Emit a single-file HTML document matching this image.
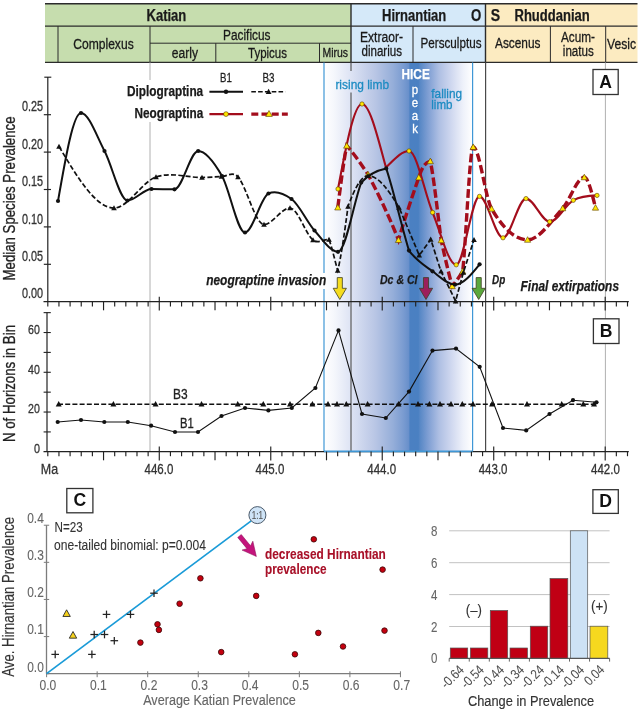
<!DOCTYPE html>
<html><head><meta charset="utf-8"><title>Figure</title>
<style>html,body{margin:0;padding:0;background:#fff}svg{display:block;will-change:transform}</style></head>
<body>
<svg width="644" height="711" viewBox="0 0 644 711" font-family='"Liberation Sans", "DejaVu Sans", sans-serif'>
<defs>
<linearGradient id="hice" x1="0" x2="1" y1="0" y2="0">
<stop offset="0.0000" stop-color="#ffffff" stop-opacity="1"/>
<stop offset="0.0673" stop-color="#f5f7fc" stop-opacity="1"/>
<stop offset="0.1818" stop-color="#dde3f4" stop-opacity="1"/>
<stop offset="0.3434" stop-color="#b9c6e5" stop-opacity="1"/>
<stop offset="0.4646" stop-color="#95aed9" stop-opacity="1"/>
<stop offset="0.5320" stop-color="#7b9cd1" stop-opacity="1"/>
<stop offset="0.5697" stop-color="#6990cb" stop-opacity="1"/>
<stop offset="0.5791" stop-color="#4b80c2" stop-opacity="1"/>
<stop offset="0.6350" stop-color="#4a80c2" stop-opacity="1"/>
<stop offset="0.6465" stop-color="#5888c6" stop-opacity="1"/>
<stop offset="0.7003" stop-color="#7e9ed3" stop-opacity="1"/>
<stop offset="0.7744" stop-color="#aebfe3" stop-opacity="1"/>
<stop offset="0.8485" stop-color="#ccd5ee" stop-opacity="1"/>
<stop offset="0.9360" stop-color="#eef1fa" stop-opacity="1"/>
<stop offset="1.0000" stop-color="#ffffff" stop-opacity="1"/>
</linearGradient>
</defs>
<rect width="644" height="711" fill="#fff"/>
<rect x="324" y="62.5" width="148.5" height="389" fill="url(#hice)"/>
<rect x="45" y="3.7" width="306" height="58.699999999999996" fill="#c6ddae"/>
<rect x="351" y="3.7" width="134.5" height="58.699999999999996" fill="#d5e9f9"/>
<rect x="485.5" y="3.7" width="152.0" height="58.699999999999996" fill="#fcebc1"/>
<line x1="45" y1="3.7" x2="637.5" y2="3.7" stroke="#2b2b2b" stroke-width="1.4" />
<line x1="45" y1="26.1" x2="637.5" y2="26.1" stroke="#2b2b2b" stroke-width="1.4" />
<line x1="45" y1="62.4" x2="637.5" y2="62.4" stroke="#2b2b2b" stroke-width="1.4" />
<line x1="150" y1="43.2" x2="351" y2="43.2" stroke="#2b2b2b" stroke-width="1.0" />
<line x1="58" y1="26.1" x2="58" y2="62.4" stroke="#2b2b2b" stroke-width="1.0" />
<line x1="150" y1="26.1" x2="150" y2="62.4" stroke="#2b2b2b" stroke-width="1.0" />
<line x1="413" y1="26.1" x2="413" y2="62.4" stroke="#2b2b2b" stroke-width="1.0" />
<line x1="550.4" y1="26.1" x2="550.4" y2="62.4" stroke="#2b2b2b" stroke-width="1.0" />
<line x1="605.7" y1="26.1" x2="605.7" y2="62.4" stroke="#2b2b2b" stroke-width="1.0" />
<line x1="215.8" y1="43.2" x2="215.8" y2="62.4" stroke="#2b2b2b" stroke-width="1.0" />
<line x1="319.5" y1="43.2" x2="319.5" y2="62.4" stroke="#2b2b2b" stroke-width="1.0" />
<line x1="351" y1="3.7" x2="351" y2="62.4" stroke="#2b2b2b" stroke-width="1.4" />
<line x1="485.5" y1="3.7" x2="485.5" y2="62.4" stroke="#2b2b2b" stroke-width="1.4" />
<text x="146.50" y="20.60" font-size="15.8" textLength="39.80" lengthAdjust="spacingAndGlyphs" font-weight="bold" fill="#1a1a1a" stroke="#1a1a1a" stroke-width="0.25" >Katian</text>
<text x="382.00" y="20.60" font-size="15.8" textLength="64.30" lengthAdjust="spacingAndGlyphs" font-weight="bold" fill="#1a1a1a" stroke="#1a1a1a" stroke-width="0.25" >Hirnantian</text>
<text x="470.90" y="21.00" font-size="17.2" textLength="10.30" lengthAdjust="spacingAndGlyphs" font-weight="bold" fill="#1a1a1a" stroke="#1a1a1a" stroke-width="0.25" >O</text>
<text x="490.80" y="21.00" font-size="17.2" textLength="9.40" lengthAdjust="spacingAndGlyphs" font-weight="bold" fill="#1a1a1a" stroke="#1a1a1a" stroke-width="0.25" >S</text>
<text x="514.50" y="20.60" font-size="15.8" textLength="75.20" lengthAdjust="spacingAndGlyphs" font-weight="bold" fill="#1a1a1a" stroke="#1a1a1a" stroke-width="0.25" >Rhuddanian</text>
<text x="73.20" y="48.80" font-size="15.2" textLength="60.50" lengthAdjust="spacingAndGlyphs" fill="#1a1a1a" stroke="#1a1a1a" stroke-width="0.3" >Complexus</text>
<text x="223.00" y="40.20" font-size="15.2" textLength="47.50" lengthAdjust="spacingAndGlyphs" fill="#1a1a1a" stroke="#1a1a1a" stroke-width="0.3" >Pacificus</text>
<text x="171.80" y="57.70" font-size="15.2" textLength="26.20" lengthAdjust="spacingAndGlyphs" fill="#1a1a1a" stroke="#1a1a1a" stroke-width="0.3" >early</text>
<text x="248.00" y="57.70" font-size="15.2" textLength="39.00" lengthAdjust="spacingAndGlyphs" fill="#1a1a1a" stroke="#1a1a1a" stroke-width="0.3" >Typicus</text>
<text x="322.50" y="57.20" font-size="13.5" textLength="25.50" lengthAdjust="spacingAndGlyphs" fill="#1a1a1a" stroke="#1a1a1a" stroke-width="0.3" >Mirus</text>
<text x="360.00" y="42.20" font-size="15.2" textLength="43.00" lengthAdjust="spacingAndGlyphs" fill="#1a1a1a" stroke="#1a1a1a" stroke-width="0.3" >Extraor-</text>
<text x="361.50" y="55.80" font-size="15.2" textLength="40.50" lengthAdjust="spacingAndGlyphs" fill="#1a1a1a" stroke="#1a1a1a" stroke-width="0.3" >dinarius</text>
<text x="420.50" y="48.40" font-size="15.2" textLength="61.00" lengthAdjust="spacingAndGlyphs" fill="#1a1a1a" stroke="#1a1a1a" stroke-width="0.3" >Persculptus</text>
<text x="495.00" y="48.40" font-size="15.2" textLength="45.50" lengthAdjust="spacingAndGlyphs" fill="#1a1a1a" stroke="#1a1a1a" stroke-width="0.3" >Ascenus</text>
<text x="561.00" y="42.20" font-size="15.2" textLength="34.00" lengthAdjust="spacingAndGlyphs" fill="#1a1a1a" stroke="#1a1a1a" stroke-width="0.3" >Acum-</text>
<text x="562.80" y="56.00" font-size="15.2" textLength="31.00" lengthAdjust="spacingAndGlyphs" fill="#1a1a1a" stroke="#1a1a1a" stroke-width="0.3" >inatus</text>
<text x="607.00" y="48.60" font-size="15.2" textLength="29.00" lengthAdjust="spacingAndGlyphs" fill="#1a1a1a" stroke="#1a1a1a" stroke-width="0.3" >Vesic</text>
<line x1="150" y1="62.4" x2="150" y2="80" stroke="#b0b0b0" stroke-width="1.0" />
<line x1="150" y1="122" x2="150" y2="451" stroke="#b0b0b0" stroke-width="1.0" />
<line x1="605.4" y1="62.4" x2="605.4" y2="451" stroke="#b0b0b0" stroke-width="1.0" />
<line x1="351" y1="62.4" x2="351" y2="71" stroke="#5a5a5a" stroke-width="1.2" />
<line x1="351" y1="92.5" x2="351" y2="451" stroke="#5a5a5a" stroke-width="1.2" />
<line x1="485.6" y1="62.4" x2="485.6" y2="451" stroke="#4a4a4a" stroke-width="1.2" />
<line x1="324" y1="62.4" x2="324" y2="273" stroke="#3f97d6" stroke-width="1.2" />
<line x1="324" y1="289" x2="324" y2="451" stroke="#3f97d6" stroke-width="1.2" />
<line x1="472.6" y1="62.4" x2="472.6" y2="451" stroke="#3f97d6" stroke-width="1.2" />
<line x1="324" y1="451.2" x2="472.6" y2="451.2" stroke="#3f97d6" stroke-width="1.2" />
<line x1="47.8" y1="77" x2="47.8" y2="301.7" stroke="#222" stroke-width="1.2" />
<line x1="44.3" y1="77.2" x2="51.3" y2="77.2" stroke="#222" stroke-width="1.15" />
<line x1="43.8" y1="264.3" x2="51" y2="264.3" stroke="#222" stroke-width="1.15" />
<line x1="43.8" y1="226.89999999999998" x2="51" y2="226.89999999999998" stroke="#222" stroke-width="1.15" />
<line x1="43.8" y1="189.5" x2="51" y2="189.5" stroke="#222" stroke-width="1.15" />
<line x1="43.8" y1="152.1" x2="51" y2="152.1" stroke="#222" stroke-width="1.15" />
<line x1="43.8" y1="114.69999999999999" x2="51" y2="114.69999999999999" stroke="#222" stroke-width="1.15" />
<line x1="43.5" y1="301.7" x2="628.8" y2="301.7" stroke="#222" stroke-width="1.25" />
<line x1="47.8" y1="301.7" x2="47.8" y2="306.5" stroke="#222" stroke-width="1.15" />
<line x1="58.94799999999999" y1="301.7" x2="58.94799999999999" y2="306.5" stroke="#222" stroke-width="1.15" />
<line x1="70.096" y1="301.7" x2="70.096" y2="306.5" stroke="#222" stroke-width="1.15" />
<line x1="81.244" y1="301.7" x2="81.244" y2="306.5" stroke="#222" stroke-width="1.15" />
<line x1="92.392" y1="301.7" x2="92.392" y2="306.5" stroke="#222" stroke-width="1.15" />
<line x1="103.53999999999999" y1="301.7" x2="103.53999999999999" y2="310.3" stroke="#222" stroke-width="1.15" />
<line x1="114.688" y1="301.7" x2="114.688" y2="306.5" stroke="#222" stroke-width="1.15" />
<line x1="125.836" y1="301.7" x2="125.836" y2="306.5" stroke="#222" stroke-width="1.15" />
<line x1="136.98399999999998" y1="301.7" x2="136.98399999999998" y2="306.5" stroke="#222" stroke-width="1.15" />
<line x1="148.132" y1="301.7" x2="148.132" y2="306.5" stroke="#222" stroke-width="1.15" />
<line x1="159.27999999999997" y1="296.8" x2="159.27999999999997" y2="310.4" stroke="#222" stroke-width="1.15" />
<line x1="170.428" y1="301.7" x2="170.428" y2="306.5" stroke="#222" stroke-width="1.15" />
<line x1="181.57600000000002" y1="301.7" x2="181.57600000000002" y2="306.5" stroke="#222" stroke-width="1.15" />
<line x1="192.724" y1="301.7" x2="192.724" y2="306.5" stroke="#222" stroke-width="1.15" />
<line x1="203.872" y1="301.7" x2="203.872" y2="306.5" stroke="#222" stroke-width="1.15" />
<line x1="215.01999999999998" y1="301.7" x2="215.01999999999998" y2="310.3" stroke="#222" stroke-width="1.15" />
<line x1="226.168" y1="301.7" x2="226.168" y2="306.5" stroke="#222" stroke-width="1.15" />
<line x1="237.31599999999997" y1="301.7" x2="237.31599999999997" y2="306.5" stroke="#222" stroke-width="1.15" />
<line x1="248.464" y1="301.7" x2="248.464" y2="306.5" stroke="#222" stroke-width="1.15" />
<line x1="259.61199999999997" y1="301.7" x2="259.61199999999997" y2="306.5" stroke="#222" stroke-width="1.15" />
<line x1="270.76" y1="296.8" x2="270.76" y2="310.4" stroke="#222" stroke-width="1.15" />
<line x1="281.908" y1="301.7" x2="281.908" y2="306.5" stroke="#222" stroke-width="1.15" />
<line x1="293.056" y1="301.7" x2="293.056" y2="306.5" stroke="#222" stroke-width="1.15" />
<line x1="304.204" y1="301.7" x2="304.204" y2="306.5" stroke="#222" stroke-width="1.15" />
<line x1="315.35200000000003" y1="301.7" x2="315.35200000000003" y2="306.5" stroke="#222" stroke-width="1.15" />
<line x1="326.5" y1="301.7" x2="326.5" y2="310.3" stroke="#222" stroke-width="1.15" />
<line x1="337.648" y1="301.7" x2="337.648" y2="306.5" stroke="#222" stroke-width="1.15" />
<line x1="348.796" y1="301.7" x2="348.796" y2="306.5" stroke="#222" stroke-width="1.15" />
<line x1="359.944" y1="301.7" x2="359.944" y2="306.5" stroke="#222" stroke-width="1.15" />
<line x1="371.092" y1="301.7" x2="371.092" y2="306.5" stroke="#222" stroke-width="1.15" />
<line x1="382.24" y1="296.8" x2="382.24" y2="310.4" stroke="#222" stroke-width="1.15" />
<line x1="393.388" y1="301.7" x2="393.388" y2="306.5" stroke="#222" stroke-width="1.15" />
<line x1="404.536" y1="301.7" x2="404.536" y2="306.5" stroke="#222" stroke-width="1.15" />
<line x1="415.684" y1="301.7" x2="415.684" y2="306.5" stroke="#222" stroke-width="1.15" />
<line x1="426.832" y1="301.7" x2="426.832" y2="306.5" stroke="#222" stroke-width="1.15" />
<line x1="437.98" y1="301.7" x2="437.98" y2="310.3" stroke="#222" stroke-width="1.15" />
<line x1="449.128" y1="301.7" x2="449.128" y2="306.5" stroke="#222" stroke-width="1.15" />
<line x1="460.276" y1="301.7" x2="460.276" y2="306.5" stroke="#222" stroke-width="1.15" />
<line x1="471.424" y1="301.7" x2="471.424" y2="306.5" stroke="#222" stroke-width="1.15" />
<line x1="482.572" y1="301.7" x2="482.572" y2="306.5" stroke="#222" stroke-width="1.15" />
<line x1="493.71999999999997" y1="296.8" x2="493.71999999999997" y2="310.4" stroke="#222" stroke-width="1.15" />
<line x1="504.868" y1="301.7" x2="504.868" y2="306.5" stroke="#222" stroke-width="1.15" />
<line x1="516.016" y1="301.7" x2="516.016" y2="306.5" stroke="#222" stroke-width="1.15" />
<line x1="527.164" y1="301.7" x2="527.164" y2="306.5" stroke="#222" stroke-width="1.15" />
<line x1="538.312" y1="301.7" x2="538.312" y2="306.5" stroke="#222" stroke-width="1.15" />
<line x1="549.4599999999999" y1="301.7" x2="549.4599999999999" y2="310.3" stroke="#222" stroke-width="1.15" />
<line x1="560.608" y1="301.7" x2="560.608" y2="306.5" stroke="#222" stroke-width="1.15" />
<line x1="571.756" y1="301.7" x2="571.756" y2="306.5" stroke="#222" stroke-width="1.15" />
<line x1="582.904" y1="301.7" x2="582.904" y2="306.5" stroke="#222" stroke-width="1.15" />
<line x1="594.0519999999999" y1="301.7" x2="594.0519999999999" y2="306.5" stroke="#222" stroke-width="1.15" />
<line x1="605.1999999999999" y1="296.8" x2="605.1999999999999" y2="310.4" stroke="#222" stroke-width="1.15" />
<line x1="616.348" y1="301.7" x2="616.348" y2="306.5" stroke="#222" stroke-width="1.15" />
<line x1="627.496" y1="301.7" x2="627.496" y2="306.5" stroke="#222" stroke-width="1.15" />
<text x="21.90" y="298.40" font-size="14.2" textLength="21.10" lengthAdjust="spacingAndGlyphs" fill="#333" stroke="#333" stroke-width="0.3" >0.00</text>
<text x="21.90" y="261.00" font-size="14.2" textLength="21.10" lengthAdjust="spacingAndGlyphs" fill="#333" stroke="#333" stroke-width="0.3" >0.05</text>
<text x="21.90" y="223.60" font-size="14.2" textLength="21.10" lengthAdjust="spacingAndGlyphs" fill="#333" stroke="#333" stroke-width="0.3" >0.10</text>
<text x="21.90" y="186.20" font-size="14.2" textLength="21.10" lengthAdjust="spacingAndGlyphs" fill="#333" stroke="#333" stroke-width="0.3" >0.15</text>
<text x="21.90" y="148.80" font-size="14.2" textLength="21.10" lengthAdjust="spacingAndGlyphs" fill="#333" stroke="#333" stroke-width="0.3" >0.20</text>
<text x="21.90" y="111.40" font-size="14.2" textLength="21.10" lengthAdjust="spacingAndGlyphs" fill="#333" stroke="#333" stroke-width="0.3" >0.25</text>
<text x="14.60" y="198.50" font-size="16.3" textLength="164.00" lengthAdjust="spacingAndGlyphs" text-anchor="middle" transform="rotate(-90 14.60 198.50)" fill="#222" stroke="#222" stroke-width="0.3" >Median Species Prevalence</text>
<text x="220.00" y="82.20" font-size="13.2" textLength="11.80" lengthAdjust="spacingAndGlyphs" fill="#222" stroke="#222" stroke-width="0.3" >B1</text>
<text x="262.50" y="82.20" font-size="13.2" textLength="12.00" lengthAdjust="spacingAndGlyphs" fill="#222" stroke="#222" stroke-width="0.3" >B3</text>
<text x="203.20" y="96.00" font-size="14.2" text-anchor="end" font-weight="bold" fill="#1a1a1a" stroke="#1a1a1a" stroke-width="0.25" textLength="76.2" lengthAdjust="spacingAndGlyphs">Diplograptina</text>
<text x="203.20" y="118.00" font-size="14.2" text-anchor="end" font-weight="bold" fill="#1a1a1a" stroke="#1a1a1a" stroke-width="0.25" textLength="68.7" lengthAdjust="spacingAndGlyphs">Neograptina</text>
<line x1="209.4" y1="91.8" x2="243" y2="91.8" stroke="#111" stroke-width="1.9" />
<circle cx="226.00" cy="91.80" r="2.2" fill="#111"/>
<line x1="251.3" y1="91.8" x2="285.4" y2="91.8" stroke="#111" stroke-width="1.6" stroke-dasharray="4.6 2.2"/>
<polygon points="268.60,88.70 265.70,93.92 271.50,93.92" fill="#111"/>
<line x1="209.4" y1="114.1" x2="243" y2="114.1" stroke="#a30d1c" stroke-width="2.1" />
<circle cx="226.00" cy="114.10" r="2.4" fill="#ffe600" stroke="#5a3a00" stroke-width="0.6"/>
<line x1="251.3" y1="114.1" x2="287.8" y2="114.1" stroke="#a30d1c" stroke-width="3.3" stroke-dasharray="7 3.2"/>
<polygon points="269.00,110.50 265.70,116.44 272.30,116.44" fill="#ffe600" stroke="#5a3a00" stroke-width="0.6"/>
<text x="335.40" y="88.60" font-size="13.7" textLength="53.70" lengthAdjust="spacingAndGlyphs" fill="#1c8bc2" stroke="#1c8bc2" stroke-width="0.3" >rising limb</text>
<text x="401.50" y="78.80" font-size="14.2" textLength="28.30" lengthAdjust="spacingAndGlyphs" font-weight="bold" fill="#fff" stroke="#fff" stroke-width="0.25" >HICE</text>
<text x="415.00" y="94.30" font-size="13.5" text-anchor="middle" fill="#fff" stroke="#fff" stroke-width="0.3" transform="translate(415 0) scale(0.85 1) translate(-415 0)">p</text>
<text x="415.00" y="106.90" font-size="13.5" text-anchor="middle" fill="#fff" stroke="#fff" stroke-width="0.3" transform="translate(415 0) scale(0.85 1) translate(-415 0)">e</text>
<text x="415.00" y="119.90" font-size="13.5" text-anchor="middle" fill="#fff" stroke="#fff" stroke-width="0.3" transform="translate(415 0) scale(0.85 1) translate(-415 0)">a</text>
<text x="415.00" y="133.30" font-size="13.5" text-anchor="middle" fill="#fff" stroke="#fff" stroke-width="0.3" transform="translate(415 0) scale(0.85 1) translate(-415 0)">k</text>
<text x="431.30" y="97.50" font-size="13.3" textLength="30.80" lengthAdjust="spacingAndGlyphs" fill="#1c8bc2" stroke="#1c8bc2" stroke-width="0.3" >falling</text>
<text x="431.30" y="109.00" font-size="13.3" textLength="21.20" lengthAdjust="spacingAndGlyphs" fill="#1c8bc2" stroke="#1c8bc2" stroke-width="0.3" >limb</text>
<path d="M337.80,207.50 C340.77,184.02 343.73,160.53 346.70,145.70 C353.80,153.51 360.90,163.75 368.00,174.40 C378.17,193.72 388.33,214.58 398.50,240.00 C405.27,216.99 412.03,197.02 418.80,177.40 C422.63,164.75 426.47,162.35 430.30,161.20 C433.93,177.55 437.57,213.41 441.20,240.30 C444.87,257.17 448.53,273.00 452.20,286.20 C455.70,282.00 459.20,277.00 462.70,271.40 C466.20,238.15 469.70,147.00 473.20,147.00 C479.33,147.00 485.47,198.34 491.60,208.80 C503.60,229.27 515.60,239.80 527.60,239.80 C539.30,239.80 551.00,221.20 562.70,208.30 C569.90,200.36 577.10,177.30 584.30,177.30 C588.03,177.30 591.77,192.50 595.50,207.70" fill="none" stroke="#a30d1c" stroke-width="3.4" stroke-dasharray="8.5 3.4"/>
<path d="M338.00,189.00 C346.00,146.50 354.00,104.00 362.00,104.00 C370.00,104.00 378.00,138.70 386.00,167.50 C393.67,160.22 401.33,151.00 409.00,151.00 C416.87,151.00 424.73,193.53 432.60,212.50 C440.47,231.47 448.33,264.80 456.20,264.80 C463.97,264.80 471.73,196.40 479.50,196.40 C487.33,196.40 495.17,237.80 503.00,237.80 C510.67,237.80 518.33,198.60 526.00,198.60 C533.90,198.60 541.80,221.70 549.70,221.70 C557.57,221.70 565.43,204.67 573.30,200.30 C581.20,195.91 589.10,195.65 597.00,195.40" fill="none" stroke="#a30d1c" stroke-width="2.1"/>
<polygon points="337.80,204.40 334.70,209.98 340.90,209.98" fill="#ffe600" stroke="#5a3a00" stroke-width="0.6"/>
<polygon points="346.70,142.60 343.60,148.18 349.80,148.18" fill="#ffe600" stroke="#5a3a00" stroke-width="0.6"/>
<polygon points="368.00,171.30 364.90,176.88 371.10,176.88" fill="#ffe600" stroke="#5a3a00" stroke-width="0.6"/>
<polygon points="398.50,236.90 395.40,242.48 401.60,242.48" fill="#ffe600" stroke="#5a3a00" stroke-width="0.6"/>
<polygon points="418.80,174.30 415.70,179.88 421.90,179.88" fill="#ffe600" stroke="#5a3a00" stroke-width="0.6"/>
<polygon points="430.30,158.10 427.20,163.68 433.40,163.68" fill="#ffe600" stroke="#5a3a00" stroke-width="0.6"/>
<polygon points="441.20,237.20 438.10,242.78 444.30,242.78" fill="#ffe600" stroke="#5a3a00" stroke-width="0.6"/>
<polygon points="452.20,283.10 449.10,288.68 455.30,288.68" fill="#ffe600" stroke="#5a3a00" stroke-width="0.6"/>
<polygon points="462.70,268.30 459.60,273.88 465.80,273.88" fill="#ffe600" stroke="#5a3a00" stroke-width="0.6"/>
<polygon points="473.20,143.90 470.10,149.48 476.30,149.48" fill="#ffe600" stroke="#5a3a00" stroke-width="0.6"/>
<polygon points="491.60,205.70 488.50,211.28 494.70,211.28" fill="#ffe600" stroke="#5a3a00" stroke-width="0.6"/>
<polygon points="527.60,236.70 524.50,242.28 530.70,242.28" fill="#ffe600" stroke="#5a3a00" stroke-width="0.6"/>
<polygon points="562.70,205.20 559.60,210.78 565.80,210.78" fill="#ffe600" stroke="#5a3a00" stroke-width="0.6"/>
<polygon points="584.30,174.20 581.20,179.78 587.40,179.78" fill="#ffe600" stroke="#5a3a00" stroke-width="0.6"/>
<polygon points="595.50,204.60 592.40,210.18 598.60,210.18" fill="#ffe600" stroke="#5a3a00" stroke-width="0.6"/>
<circle cx="338.00" cy="189.00" r="2.15" fill="#ffe600" stroke="#5a3a00" stroke-width="0.6"/>
<circle cx="362.00" cy="104.00" r="2.15" fill="#ffe600" stroke="#5a3a00" stroke-width="0.6"/>
<circle cx="409.00" cy="151.00" r="2.15" fill="#ffe600" stroke="#5a3a00" stroke-width="0.6"/>
<circle cx="432.60" cy="212.50" r="2.15" fill="#ffe600" stroke="#5a3a00" stroke-width="0.6"/>
<circle cx="456.20" cy="264.80" r="2.15" fill="#ffe600" stroke="#5a3a00" stroke-width="0.6"/>
<circle cx="479.50" cy="196.40" r="2.15" fill="#ffe600" stroke="#5a3a00" stroke-width="0.6"/>
<circle cx="503.00" cy="237.80" r="2.15" fill="#ffe600" stroke="#5a3a00" stroke-width="0.6"/>
<circle cx="526.00" cy="198.60" r="2.15" fill="#ffe600" stroke="#5a3a00" stroke-width="0.6"/>
<circle cx="549.70" cy="221.70" r="2.15" fill="#ffe600" stroke="#5a3a00" stroke-width="0.6"/>
<circle cx="573.30" cy="200.30" r="2.15" fill="#ffe600" stroke="#5a3a00" stroke-width="0.6"/>
<circle cx="597.00" cy="195.40" r="2.15" fill="#ffe600" stroke="#5a3a00" stroke-width="0.6"/>
<path d="M59.00,146.50 C77.33,177.25 95.67,208.00 114.00,208.00 C128.00,208.00 142.00,181.85 156.00,177.00 C171.33,171.69 186.67,177.59 202.00,177.50 C208.50,177.46 215.00,176.69 221.50,176.60 C227.00,176.52 232.50,170.80 238.00,177.00 C246.67,186.77 255.33,224.50 264.00,224.50 C272.67,224.50 281.33,208.00 290.00,208.00 C297.67,208.00 305.33,233.81 313.00,240.00 C318.33,244.31 323.67,238.97 329.00,239.50 C331.90,247.04 334.80,260.35 337.70,270.50 C341.13,257.11 344.57,232.59 348.00,206.50 C354.67,188.50 361.33,175.80 368.00,175.80 C378.33,175.80 388.67,189.93 399.00,207.50 C405.73,222.99 412.47,239.04 419.20,255.20 C423.03,250.22 426.87,244.77 430.70,239.40 C434.13,249.36 437.57,261.07 441.00,271.20 C445.87,281.42 450.73,290.98 455.60,301.20 C458.17,291.19 460.73,282.35 463.30,272.60 C466.87,261.54 470.43,250.67 474.00,239.80" fill="none" stroke="#111" stroke-width="1.7" stroke-dasharray="5 2.3"/>
<path d="M58.00,201.00 C65.67,157.00 73.33,113.00 81.00,113.00 C88.83,113.00 96.67,136.26 104.50,151.00 C112.17,165.43 119.83,200.50 127.50,200.50 C135.50,200.50 143.50,189.00 151.50,189.00 C159.17,189.00 166.83,189.30 174.50,189.30 C182.40,189.30 190.30,151.00 198.20,151.00 C206.13,151.00 214.07,162.18 222.00,176.00 C229.67,189.35 237.33,232.50 245.00,232.50 C252.83,232.50 260.67,197.03 268.50,193.50 C276.17,190.05 283.83,193.50 291.50,199.00 C299.17,204.50 306.83,221.79 314.50,230.50 C322.33,239.39 330.17,251.80 338.00,251.80 C345.73,251.80 353.47,203.48 361.20,182.60 C369.53,173.02 377.87,170.07 386.20,168.40 C393.80,191.20 401.40,225.52 409.00,250.60 C416.83,261.18 424.67,265.51 432.50,271.30 C440.00,276.84 447.50,284.60 455.00,284.60 C463.20,284.60 471.40,274.45 479.60,264.30" fill="none" stroke="#111" stroke-width="2.0"/>
<polygon points="59.00,143.70 56.20,148.74 61.80,148.74" fill="#111"/>
<polygon points="114.00,205.20 111.20,210.24 116.80,210.24" fill="#111"/>
<polygon points="156.00,174.20 153.20,179.24 158.80,179.24" fill="#111"/>
<polygon points="202.00,174.70 199.20,179.74 204.80,179.74" fill="#111"/>
<polygon points="221.50,173.80 218.70,178.84 224.30,178.84" fill="#111"/>
<polygon points="238.00,174.20 235.20,179.24 240.80,179.24" fill="#111"/>
<polygon points="264.00,221.70 261.20,226.74 266.80,226.74" fill="#111"/>
<polygon points="290.00,205.20 287.20,210.24 292.80,210.24" fill="#111"/>
<polygon points="313.00,237.20 310.20,242.24 315.80,242.24" fill="#111"/>
<polygon points="329.00,236.70 326.20,241.74 331.80,241.74" fill="#111"/>
<polygon points="337.70,267.70 334.90,272.74 340.50,272.74" fill="#111"/>
<polygon points="348.00,203.70 345.20,208.74 350.80,208.74" fill="#111"/>
<polygon points="368.00,173.00 365.20,178.04 370.80,178.04" fill="#111"/>
<polygon points="399.00,204.70 396.20,209.74 401.80,209.74" fill="#111"/>
<polygon points="419.20,252.40 416.40,257.44 422.00,257.44" fill="#111"/>
<polygon points="430.70,236.60 427.90,241.64 433.50,241.64" fill="#111"/>
<polygon points="441.00,268.40 438.20,273.44 443.80,273.44" fill="#111"/>
<polygon points="455.60,298.40 452.80,303.44 458.40,303.44" fill="#111"/>
<polygon points="463.30,269.80 460.50,274.84 466.10,274.84" fill="#111"/>
<polygon points="474.00,237.00 471.20,242.04 476.80,242.04" fill="#111"/>
<circle cx="58.00" cy="201.00" r="2.1" fill="#111"/>
<circle cx="81.00" cy="113.00" r="2.1" fill="#111"/>
<circle cx="104.50" cy="151.00" r="2.1" fill="#111"/>
<circle cx="127.50" cy="200.50" r="2.1" fill="#111"/>
<circle cx="151.50" cy="189.00" r="2.1" fill="#111"/>
<circle cx="174.50" cy="189.30" r="2.1" fill="#111"/>
<circle cx="198.20" cy="151.00" r="2.1" fill="#111"/>
<circle cx="222.00" cy="176.00" r="2.1" fill="#111"/>
<circle cx="245.00" cy="232.50" r="2.1" fill="#111"/>
<circle cx="268.50" cy="193.50" r="2.1" fill="#111"/>
<circle cx="291.50" cy="199.00" r="2.1" fill="#111"/>
<circle cx="314.50" cy="230.50" r="2.1" fill="#111"/>
<circle cx="338.00" cy="251.80" r="2.1" fill="#111"/>
<circle cx="361.20" cy="182.60" r="2.1" fill="#111"/>
<circle cx="386.20" cy="168.40" r="2.1" fill="#111"/>
<circle cx="409.00" cy="250.60" r="2.1" fill="#111"/>
<circle cx="432.50" cy="271.30" r="2.1" fill="#111"/>
<circle cx="455.00" cy="284.60" r="2.1" fill="#111"/>
<circle cx="479.60" cy="264.30" r="2.1" fill="#111"/>
<polygon points="337.25,277.60 342.35,277.60 342.35,288.30 346.40,288.30 339.80,299.50 333.20,288.30 337.25,288.30" fill="#f5dc1e" stroke="#3d3d22" stroke-width="0.8" stroke-linejoin="miter"/>
<polygon points="423.45,277.60 428.55,277.60 428.55,288.30 432.60,288.30 426.00,299.50 419.40,288.30 423.45,288.30" fill="#9c1f5c" stroke="#3d3d22" stroke-width="0.8" stroke-linejoin="miter"/>
<polygon points="476.15,277.60 481.25,277.60 481.25,288.30 485.30,288.30 478.70,299.50 472.10,288.30 476.15,288.30" fill="#5aa83c" stroke="#3d3d22" stroke-width="0.8" stroke-linejoin="miter"/>
<text x="206.20" y="284.80" font-size="14.2" textLength="120.00" lengthAdjust="spacingAndGlyphs" font-weight="bold" font-style="italic" fill="#1a1a1a" stroke="#1a1a1a" stroke-width="0.25" >neograptine invasion</text>
<text x="380.00" y="284.40" font-size="13.2" textLength="37.50" lengthAdjust="spacingAndGlyphs" font-weight="bold" font-style="italic" fill="#1a1a1a" stroke="#1a1a1a" stroke-width="0.25" >Dc &amp; Cl</text>
<text x="492.00" y="284.40" font-size="13.2" textLength="13.20" lengthAdjust="spacingAndGlyphs" font-weight="bold" font-style="italic" fill="#1a1a1a" stroke="#1a1a1a" stroke-width="0.25" >Dp</text>
<text x="520.60" y="291.20" font-size="14.2" textLength="98.40" lengthAdjust="spacingAndGlyphs" font-weight="bold" font-style="italic" fill="#1a1a1a" stroke="#1a1a1a" stroke-width="0.25" >Final extirpations</text>
<rect x="593" y="69.5" width="25.2" height="25" fill="#fff" stroke="#333" stroke-width="1.3"/>
<text x="605.60" y="87.84" font-size="17.6" text-anchor="middle" font-weight="bold" fill="#111" stroke="#111" stroke-width="0" >A</text>
<line x1="47.0" y1="312.4" x2="47.0" y2="451.6" stroke="#222" stroke-width="1.2" />
<line x1="43.6" y1="431.92" x2="50.8" y2="431.92" stroke="#222" stroke-width="1.1" />
<line x1="43.6" y1="412.04" x2="50.8" y2="412.04" stroke="#222" stroke-width="1.1" />
<line x1="43.6" y1="392.16" x2="50.8" y2="392.16" stroke="#222" stroke-width="1.1" />
<line x1="43.6" y1="372.28000000000003" x2="50.8" y2="372.28000000000003" stroke="#222" stroke-width="1.1" />
<line x1="43.6" y1="352.4" x2="50.8" y2="352.4" stroke="#222" stroke-width="1.1" />
<line x1="43.6" y1="332.52" x2="50.8" y2="332.52" stroke="#222" stroke-width="1.1" />
<line x1="43.6" y1="312.64" x2="50.8" y2="312.64" stroke="#222" stroke-width="1.1" />
<line x1="43.5" y1="451.7" x2="628.8" y2="451.7" stroke="#222" stroke-width="1.25" />
<line x1="324" y1="451.6" x2="472.6" y2="451.6" stroke="#3f97d6" stroke-width="1.4" />
<line x1="47.8" y1="451.6" x2="47.8" y2="456.2" stroke="#222" stroke-width="1.15" />
<line x1="58.94799999999999" y1="451.6" x2="58.94799999999999" y2="456.2" stroke="#222" stroke-width="1.15" />
<line x1="70.096" y1="451.6" x2="70.096" y2="456.2" stroke="#222" stroke-width="1.15" />
<line x1="81.244" y1="451.6" x2="81.244" y2="456.2" stroke="#222" stroke-width="1.15" />
<line x1="92.392" y1="451.6" x2="92.392" y2="456.2" stroke="#222" stroke-width="1.15" />
<line x1="103.53999999999999" y1="451.6" x2="103.53999999999999" y2="460.3" stroke="#222" stroke-width="1.15" />
<line x1="114.688" y1="451.6" x2="114.688" y2="456.2" stroke="#222" stroke-width="1.15" />
<line x1="125.836" y1="451.6" x2="125.836" y2="456.2" stroke="#222" stroke-width="1.15" />
<line x1="136.98399999999998" y1="451.6" x2="136.98399999999998" y2="456.2" stroke="#222" stroke-width="1.15" />
<line x1="148.132" y1="451.6" x2="148.132" y2="456.2" stroke="#222" stroke-width="1.15" />
<line x1="159.27999999999997" y1="446.5" x2="159.27999999999997" y2="460.5" stroke="#222" stroke-width="1.15" />
<line x1="170.428" y1="451.6" x2="170.428" y2="456.2" stroke="#222" stroke-width="1.15" />
<line x1="181.57600000000002" y1="451.6" x2="181.57600000000002" y2="456.2" stroke="#222" stroke-width="1.15" />
<line x1="192.724" y1="451.6" x2="192.724" y2="456.2" stroke="#222" stroke-width="1.15" />
<line x1="203.872" y1="451.6" x2="203.872" y2="456.2" stroke="#222" stroke-width="1.15" />
<line x1="215.01999999999998" y1="451.6" x2="215.01999999999998" y2="460.3" stroke="#222" stroke-width="1.15" />
<line x1="226.168" y1="451.6" x2="226.168" y2="456.2" stroke="#222" stroke-width="1.15" />
<line x1="237.31599999999997" y1="451.6" x2="237.31599999999997" y2="456.2" stroke="#222" stroke-width="1.15" />
<line x1="248.464" y1="451.6" x2="248.464" y2="456.2" stroke="#222" stroke-width="1.15" />
<line x1="259.61199999999997" y1="451.6" x2="259.61199999999997" y2="456.2" stroke="#222" stroke-width="1.15" />
<line x1="270.76" y1="446.5" x2="270.76" y2="460.5" stroke="#222" stroke-width="1.15" />
<line x1="281.908" y1="451.6" x2="281.908" y2="456.2" stroke="#222" stroke-width="1.15" />
<line x1="293.056" y1="451.6" x2="293.056" y2="456.2" stroke="#222" stroke-width="1.15" />
<line x1="304.204" y1="451.6" x2="304.204" y2="456.2" stroke="#222" stroke-width="1.15" />
<line x1="315.35200000000003" y1="451.6" x2="315.35200000000003" y2="456.2" stroke="#222" stroke-width="1.15" />
<line x1="326.5" y1="451.6" x2="326.5" y2="460.3" stroke="#222" stroke-width="1.15" />
<line x1="337.648" y1="451.6" x2="337.648" y2="456.2" stroke="#222" stroke-width="1.15" />
<line x1="348.796" y1="451.6" x2="348.796" y2="456.2" stroke="#222" stroke-width="1.15" />
<line x1="359.944" y1="451.6" x2="359.944" y2="456.2" stroke="#222" stroke-width="1.15" />
<line x1="371.092" y1="451.6" x2="371.092" y2="456.2" stroke="#222" stroke-width="1.15" />
<line x1="382.24" y1="446.5" x2="382.24" y2="460.5" stroke="#222" stroke-width="1.15" />
<line x1="393.388" y1="451.6" x2="393.388" y2="456.2" stroke="#222" stroke-width="1.15" />
<line x1="404.536" y1="451.6" x2="404.536" y2="456.2" stroke="#222" stroke-width="1.15" />
<line x1="415.684" y1="451.6" x2="415.684" y2="456.2" stroke="#222" stroke-width="1.15" />
<line x1="426.832" y1="451.6" x2="426.832" y2="456.2" stroke="#222" stroke-width="1.15" />
<line x1="437.98" y1="451.6" x2="437.98" y2="460.3" stroke="#222" stroke-width="1.15" />
<line x1="449.128" y1="451.6" x2="449.128" y2="456.2" stroke="#222" stroke-width="1.15" />
<line x1="460.276" y1="451.6" x2="460.276" y2="456.2" stroke="#222" stroke-width="1.15" />
<line x1="471.424" y1="451.6" x2="471.424" y2="456.2" stroke="#222" stroke-width="1.15" />
<line x1="482.572" y1="451.6" x2="482.572" y2="456.2" stroke="#222" stroke-width="1.15" />
<line x1="493.71999999999997" y1="446.5" x2="493.71999999999997" y2="460.5" stroke="#222" stroke-width="1.15" />
<line x1="504.868" y1="451.6" x2="504.868" y2="456.2" stroke="#222" stroke-width="1.15" />
<line x1="516.016" y1="451.6" x2="516.016" y2="456.2" stroke="#222" stroke-width="1.15" />
<line x1="527.164" y1="451.6" x2="527.164" y2="456.2" stroke="#222" stroke-width="1.15" />
<line x1="538.312" y1="451.6" x2="538.312" y2="456.2" stroke="#222" stroke-width="1.15" />
<line x1="549.4599999999999" y1="451.6" x2="549.4599999999999" y2="460.3" stroke="#222" stroke-width="1.15" />
<line x1="560.608" y1="451.6" x2="560.608" y2="456.2" stroke="#222" stroke-width="1.15" />
<line x1="571.756" y1="451.6" x2="571.756" y2="456.2" stroke="#222" stroke-width="1.15" />
<line x1="582.904" y1="451.6" x2="582.904" y2="456.2" stroke="#222" stroke-width="1.15" />
<line x1="594.0519999999999" y1="451.6" x2="594.0519999999999" y2="456.2" stroke="#222" stroke-width="1.15" />
<line x1="605.1999999999999" y1="446.5" x2="605.1999999999999" y2="460.5" stroke="#222" stroke-width="1.15" />
<line x1="616.348" y1="451.6" x2="616.348" y2="456.2" stroke="#222" stroke-width="1.15" />
<line x1="627.496" y1="451.6" x2="627.496" y2="456.2" stroke="#222" stroke-width="1.15" />
<text x="39.90" y="453.20" font-size="13.6" text-anchor="end" fill="#333" stroke="#333" stroke-width="0.3" textLength="6" lengthAdjust="spacingAndGlyphs">0</text>
<text x="39.90" y="413.44" font-size="13.6" text-anchor="end" fill="#333" stroke="#333" stroke-width="0.3" textLength="11.8" lengthAdjust="spacingAndGlyphs">20</text>
<text x="39.90" y="373.68" font-size="13.6" text-anchor="end" fill="#333" stroke="#333" stroke-width="0.3" textLength="11.8" lengthAdjust="spacingAndGlyphs">40</text>
<text x="39.90" y="333.92" font-size="13.6" text-anchor="end" fill="#333" stroke="#333" stroke-width="0.3" textLength="11.8" lengthAdjust="spacingAndGlyphs">60</text>
<text x="14.60" y="383.50" font-size="16.3" textLength="117.00" lengthAdjust="spacingAndGlyphs" text-anchor="middle" transform="rotate(-90 14.60 383.50)" fill="#222" stroke="#222" stroke-width="0.3" >N of Horizons in Bin</text>
<text x="40.80" y="473.50" font-size="15.3" textLength="17.30" lengthAdjust="spacingAndGlyphs" fill="#333" stroke="#333" stroke-width="0.3" >Ma</text>
<text x="144.50" y="474.30" font-size="14.6" textLength="28.80" lengthAdjust="spacingAndGlyphs" fill="#333" stroke="#333" stroke-width="0.3" >446.0</text>
<text x="255.50" y="474.30" font-size="14.6" textLength="28.80" lengthAdjust="spacingAndGlyphs" fill="#333" stroke="#333" stroke-width="0.3" >445.0</text>
<text x="367.30" y="474.30" font-size="14.6" textLength="28.80" lengthAdjust="spacingAndGlyphs" fill="#333" stroke="#333" stroke-width="0.3" >444.0</text>
<text x="478.70" y="474.30" font-size="14.6" textLength="28.80" lengthAdjust="spacingAndGlyphs" fill="#333" stroke="#333" stroke-width="0.3" >443.0</text>
<text x="591.00" y="474.30" font-size="14.6" textLength="28.80" lengthAdjust="spacingAndGlyphs" fill="#333" stroke="#333" stroke-width="0.3" >442.0</text>
<line x1="58" y1="404.2" x2="597" y2="404.2" stroke="#111" stroke-width="1.5" stroke-dasharray="5 2.2"/>
<path d="M57.70,422.00 L81.00,420.00 L104.30,422.00 L127.80,422.00 L151.10,425.70 L175.00,432.00 L198.00,432.00 L221.50,416.00 L245.00,408.00 L268.40,410.40 L291.80,408.00 L315.40,388.00 L338.50,330.40 L362.00,414.00 L385.80,418.00 L409.00,391.60 L432.50,350.60 L456.00,348.60 L479.70,366.80 L503.00,428.00 L526.20,430.40 L549.50,414.00 L573.00,400.20 L596.50,402.30" fill="none" stroke="#111" stroke-width="1.1"/>
<polygon points="58.70,401.00 55.70,406.40 61.70,406.40" fill="#111"/>
<polygon points="113.40,401.00 110.40,406.40 116.40,406.40" fill="#111"/>
<polygon points="155.60,401.00 152.60,406.40 158.60,406.40" fill="#111"/>
<polygon points="201.50,401.00 198.50,406.40 204.50,406.40" fill="#111"/>
<polygon points="237.70,401.00 234.70,406.40 240.70,406.40" fill="#111"/>
<polygon points="263.30,401.00 260.30,406.40 266.30,406.40" fill="#111"/>
<polygon points="290.00,401.00 287.00,406.40 293.00,406.40" fill="#111"/>
<polygon points="312.40,401.00 309.40,406.40 315.40,406.40" fill="#111"/>
<polygon points="328.00,401.00 325.00,406.40 331.00,406.40" fill="#111"/>
<polygon points="337.00,401.00 334.00,406.40 340.00,406.40" fill="#111"/>
<polygon points="346.30,401.00 343.30,406.40 349.30,406.40" fill="#111"/>
<polygon points="367.60,401.00 364.60,406.40 370.60,406.40" fill="#111"/>
<polygon points="398.50,401.00 395.50,406.40 401.50,406.40" fill="#111"/>
<polygon points="418.00,401.00 415.00,406.40 421.00,406.40" fill="#111"/>
<polygon points="429.40,401.00 426.40,406.40 432.40,406.40" fill="#111"/>
<polygon points="440.00,401.00 437.00,406.40 443.00,406.40" fill="#111"/>
<polygon points="451.00,401.00 448.00,406.40 454.00,406.40" fill="#111"/>
<polygon points="462.30,401.00 459.30,406.40 465.30,406.40" fill="#111"/>
<polygon points="473.00,401.00 470.00,406.40 476.00,406.40" fill="#111"/>
<polygon points="492.00,401.00 489.00,406.40 495.00,406.40" fill="#111"/>
<polygon points="527.00,401.00 524.00,406.40 530.00,406.40" fill="#111"/>
<polygon points="561.70,401.00 558.70,406.40 564.70,406.40" fill="#111"/>
<polygon points="583.30,401.00 580.30,406.40 586.30,406.40" fill="#111"/>
<polygon points="594.00,401.00 591.00,406.40 597.00,406.40" fill="#111"/>
<circle cx="57.70" cy="422.00" r="2.1" fill="#111"/>
<circle cx="81.00" cy="420.00" r="2.1" fill="#111"/>
<circle cx="104.30" cy="422.00" r="2.1" fill="#111"/>
<circle cx="127.80" cy="422.00" r="2.1" fill="#111"/>
<circle cx="151.10" cy="425.70" r="2.1" fill="#111"/>
<circle cx="175.00" cy="432.00" r="2.1" fill="#111"/>
<circle cx="198.00" cy="432.00" r="2.1" fill="#111"/>
<circle cx="221.50" cy="416.00" r="2.1" fill="#111"/>
<circle cx="245.00" cy="408.00" r="2.1" fill="#111"/>
<circle cx="268.40" cy="410.40" r="2.1" fill="#111"/>
<circle cx="291.80" cy="408.00" r="2.1" fill="#111"/>
<circle cx="315.40" cy="388.00" r="2.1" fill="#111"/>
<circle cx="338.50" cy="330.40" r="2.1" fill="#111"/>
<circle cx="362.00" cy="414.00" r="2.1" fill="#111"/>
<circle cx="385.80" cy="418.00" r="2.1" fill="#111"/>
<circle cx="409.00" cy="391.60" r="2.1" fill="#111"/>
<circle cx="432.50" cy="350.60" r="2.1" fill="#111"/>
<circle cx="456.00" cy="348.60" r="2.1" fill="#111"/>
<circle cx="479.70" cy="366.80" r="2.1" fill="#111"/>
<circle cx="503.00" cy="428.00" r="2.1" fill="#111"/>
<circle cx="526.20" cy="430.40" r="2.1" fill="#111"/>
<circle cx="549.50" cy="414.00" r="2.1" fill="#111"/>
<circle cx="573.00" cy="400.20" r="2.1" fill="#111"/>
<circle cx="596.50" cy="402.30" r="2.1" fill="#111"/>
<text x="173.00" y="399.30" font-size="14.2" textLength="14.60" lengthAdjust="spacingAndGlyphs" fill="#222" stroke="#222" stroke-width="0.3" >B3</text>
<text x="180.00" y="428.00" font-size="14.2" textLength="13.70" lengthAdjust="spacingAndGlyphs" fill="#222" stroke="#222" stroke-width="0.3" >B1</text>
<rect x="593.4" y="318.8" width="25.6" height="24.7" fill="#fff" stroke="#333" stroke-width="1.3"/>
<text x="606.20" y="336.99" font-size="17.6" text-anchor="middle" font-weight="bold" fill="#111" stroke="#111" stroke-width="0" >B</text>
<line x1="46.5" y1="525.2" x2="46.5" y2="673.6" stroke="#7c7c7c" stroke-width="1.3" />
<line x1="46" y1="673.6" x2="401" y2="673.6" stroke="#7c7c7c" stroke-width="1.4" />
<line x1="46.5" y1="673.7" x2="49.2" y2="673.7" stroke="#7c7c7c" stroke-width="1.0" />
<line x1="43.8" y1="636.58" x2="49.2" y2="636.58" stroke="#7c7c7c" stroke-width="1.0" />
<line x1="43.8" y1="599.46" x2="49.2" y2="599.46" stroke="#7c7c7c" stroke-width="1.0" />
<line x1="43.8" y1="562.34" x2="49.2" y2="562.34" stroke="#7c7c7c" stroke-width="1.0" />
<line x1="43.8" y1="525.22" x2="49.2" y2="525.22" stroke="#7c7c7c" stroke-width="1.0" />
<line x1="46.6" y1="673.6" x2="46.6" y2="677.2" stroke="#7c7c7c" stroke-width="1.0" />
<line x1="97.15" y1="671.3" x2="97.15" y2="677.2" stroke="#7c7c7c" stroke-width="1.0" />
<line x1="147.70000000000002" y1="671.3" x2="147.70000000000002" y2="677.2" stroke="#7c7c7c" stroke-width="1.0" />
<line x1="198.25" y1="671.3" x2="198.25" y2="677.2" stroke="#7c7c7c" stroke-width="1.0" />
<line x1="248.8" y1="671.3" x2="248.8" y2="677.2" stroke="#7c7c7c" stroke-width="1.0" />
<line x1="299.35" y1="671.3" x2="299.35" y2="677.2" stroke="#7c7c7c" stroke-width="1.0" />
<line x1="349.90000000000003" y1="671.3" x2="349.90000000000003" y2="677.2" stroke="#7c7c7c" stroke-width="1.0" />
<line x1="400.45" y1="671.3" x2="400.45" y2="677.2" stroke="#7c7c7c" stroke-width="1.0" />
<text x="43.80" y="671.50" font-size="14" textLength="16.60" lengthAdjust="spacingAndGlyphs" text-anchor="end" fill="#666" stroke="#666" stroke-width="0.1" >0.0</text>
<text x="43.80" y="634.38" font-size="14" textLength="16.60" lengthAdjust="spacingAndGlyphs" text-anchor="end" fill="#666" stroke="#666" stroke-width="0.1" >0.1</text>
<text x="43.80" y="597.26" font-size="14" textLength="16.60" lengthAdjust="spacingAndGlyphs" text-anchor="end" fill="#666" stroke="#666" stroke-width="0.1" >0.2</text>
<text x="43.80" y="560.14" font-size="14" textLength="16.60" lengthAdjust="spacingAndGlyphs" text-anchor="end" fill="#666" stroke="#666" stroke-width="0.1" >0.3</text>
<text x="43.80" y="523.02" font-size="14" textLength="16.60" lengthAdjust="spacingAndGlyphs" text-anchor="end" fill="#666" stroke="#666" stroke-width="0.1" >0.4</text>
<text x="47.90" y="689.90" font-size="14" textLength="16.80" lengthAdjust="spacingAndGlyphs" text-anchor="middle" fill="#666" stroke="#666" stroke-width="0.1" >0.0</text>
<text x="98.45" y="689.90" font-size="14" textLength="16.80" lengthAdjust="spacingAndGlyphs" text-anchor="middle" fill="#666" stroke="#666" stroke-width="0.1" >0.1</text>
<text x="149.00" y="689.90" font-size="14" textLength="16.80" lengthAdjust="spacingAndGlyphs" text-anchor="middle" fill="#666" stroke="#666" stroke-width="0.1" >0.2</text>
<text x="199.55" y="689.90" font-size="14" textLength="16.80" lengthAdjust="spacingAndGlyphs" text-anchor="middle" fill="#666" stroke="#666" stroke-width="0.1" >0.3</text>
<text x="250.10" y="689.90" font-size="14" textLength="16.80" lengthAdjust="spacingAndGlyphs" text-anchor="middle" fill="#666" stroke="#666" stroke-width="0.1" >0.4</text>
<text x="300.65" y="689.90" font-size="14" textLength="16.80" lengthAdjust="spacingAndGlyphs" text-anchor="middle" fill="#666" stroke="#666" stroke-width="0.1" >0.5</text>
<text x="351.20" y="689.90" font-size="14" textLength="16.80" lengthAdjust="spacingAndGlyphs" text-anchor="middle" fill="#666" stroke="#666" stroke-width="0.1" >0.6</text>
<text x="401.75" y="689.90" font-size="14" textLength="16.80" lengthAdjust="spacingAndGlyphs" text-anchor="middle" fill="#666" stroke="#666" stroke-width="0.1" >0.7</text>
<text x="14.40" y="596.80" font-size="16.3" textLength="160.00" lengthAdjust="spacingAndGlyphs" text-anchor="middle" transform="rotate(-90 14.40 596.80)" fill="#333" stroke="#333" stroke-width="0.15" >Ave. Hirnantian Prevalence</text>
<text x="143.20" y="705.00" font-size="15.5" textLength="152.60" lengthAdjust="spacingAndGlyphs" fill="#666" stroke="#666" stroke-width="0.15" >Average Katian Prevalence</text>
<text x="54.50" y="532.40" font-size="14" textLength="28.20" lengthAdjust="spacingAndGlyphs" fill="#333" stroke="#333" stroke-width="0.1" >N=23</text>
<text x="54.00" y="550.00" font-size="14" textLength="152.00" lengthAdjust="spacingAndGlyphs" fill="#333" stroke="#333" stroke-width="0.1" >one-tailed binomial: p=0.004</text>
<line x1="46.6" y1="673.6" x2="251.2" y2="520.9" stroke="#1a9bd8" stroke-width="1.7" />
<circle cx="257.4" cy="515.1" r="8.5" fill="#cfe4f7" stroke="#3a4a5a" stroke-width="0.9"/>
<text x="257.40" y="518.80" font-size="10.5" textLength="11.20" lengthAdjust="spacingAndGlyphs" text-anchor="middle" fill="#555" stroke="#555" stroke-width="0.1" >1:1</text>
<rect x="66.8" y="488.5" width="26.1" height="24.3" fill="#fff" stroke="#333" stroke-width="1.3"/>
<text x="79.85" y="506.49" font-size="17.6" text-anchor="middle" font-weight="bold" fill="#111" stroke="#111" stroke-width="0" >C</text>
<line x1="51.400000000000006" y1="654.4" x2="59.0" y2="654.4" stroke="#222" stroke-width="1.25" />
<line x1="55.2" y1="650.6" x2="55.2" y2="658.1999999999999" stroke="#222" stroke-width="1.25" />
<line x1="88.10000000000001" y1="654.4" x2="95.7" y2="654.4" stroke="#222" stroke-width="1.25" />
<line x1="91.9" y1="650.6" x2="91.9" y2="658.1999999999999" stroke="#222" stroke-width="1.25" />
<line x1="90.4" y1="634.5" x2="98.0" y2="634.5" stroke="#222" stroke-width="1.25" />
<line x1="94.2" y1="630.7" x2="94.2" y2="638.3" stroke="#222" stroke-width="1.25" />
<line x1="100.7" y1="634.5" x2="108.3" y2="634.5" stroke="#222" stroke-width="1.25" />
<line x1="104.5" y1="630.7" x2="104.5" y2="638.3" stroke="#222" stroke-width="1.25" />
<line x1="110.5" y1="640.7" x2="118.1" y2="640.7" stroke="#222" stroke-width="1.25" />
<line x1="114.3" y1="636.9000000000001" x2="114.3" y2="644.5" stroke="#222" stroke-width="1.25" />
<line x1="102.7" y1="614.4" x2="110.3" y2="614.4" stroke="#222" stroke-width="1.25" />
<line x1="106.5" y1="610.6" x2="106.5" y2="618.1999999999999" stroke="#222" stroke-width="1.25" />
<line x1="126.7" y1="614.4" x2="134.3" y2="614.4" stroke="#222" stroke-width="1.25" />
<line x1="130.5" y1="610.6" x2="130.5" y2="618.1999999999999" stroke="#222" stroke-width="1.25" />
<line x1="150.2" y1="593.2" x2="157.8" y2="593.2" stroke="#222" stroke-width="1.25" />
<line x1="154" y1="589.4000000000001" x2="154" y2="597.0" stroke="#222" stroke-width="1.25" />
<circle cx="140.40" cy="642.60" r="2.8" fill="#c4000f" stroke="#3a0a0a" stroke-width="0.8"/>
<circle cx="157.50" cy="624.30" r="2.8" fill="#c4000f" stroke="#3a0a0a" stroke-width="0.8"/>
<circle cx="158.90" cy="629.90" r="2.8" fill="#c4000f" stroke="#3a0a0a" stroke-width="0.8"/>
<circle cx="179.60" cy="603.70" r="2.8" fill="#c4000f" stroke="#3a0a0a" stroke-width="0.8"/>
<circle cx="200.40" cy="578.30" r="2.8" fill="#c4000f" stroke="#3a0a0a" stroke-width="0.8"/>
<circle cx="256.20" cy="595.90" r="2.8" fill="#c4000f" stroke="#3a0a0a" stroke-width="0.8"/>
<circle cx="221.20" cy="652.10" r="2.8" fill="#c4000f" stroke="#3a0a0a" stroke-width="0.8"/>
<circle cx="294.90" cy="654.30" r="2.8" fill="#c4000f" stroke="#3a0a0a" stroke-width="0.8"/>
<circle cx="313.80" cy="539.30" r="2.8" fill="#c4000f" stroke="#3a0a0a" stroke-width="0.8"/>
<circle cx="382.60" cy="569.60" r="2.8" fill="#c4000f" stroke="#3a0a0a" stroke-width="0.8"/>
<circle cx="318.30" cy="632.90" r="2.8" fill="#c4000f" stroke="#3a0a0a" stroke-width="0.8"/>
<circle cx="384.50" cy="630.60" r="2.8" fill="#c4000f" stroke="#3a0a0a" stroke-width="0.8"/>
<circle cx="343.00" cy="646.50" r="2.8" fill="#c4000f" stroke="#3a0a0a" stroke-width="0.8"/>
<polygon points="66.60,609.80 62.90,616.46 70.30,616.46" fill="#f6d21c" stroke="#2a2a2a" stroke-width="0.9"/>
<polygon points="73.00,631.50 69.30,638.16 76.70,638.16" fill="#f6d21c" stroke="#2a2a2a" stroke-width="0.9"/>
<g transform="translate(239.5,536) rotate(50.5)"><polygon points="0,-2.3 14.5,-2.3 12.5,-7 26.5,0 12.5,7 14.5,2.3 0,2.3" fill="#c4147c" stroke="#8a0e56" stroke-width="0.5"/></g>
<text x="265.00" y="559.00" font-size="14.2" textLength="120.80" lengthAdjust="spacingAndGlyphs" font-weight="bold" fill="#a81028" stroke="#a81028" stroke-width="0.1" >decreased Hirnantian</text>
<text x="265.00" y="574.40" font-size="14.2" textLength="61.50" lengthAdjust="spacingAndGlyphs" font-weight="bold" fill="#a81028" stroke="#a81028" stroke-width="0.1" >prevalence</text>
<line x1="449.2" y1="626.5" x2="609.6" y2="626.5" stroke="#c2c2c2" stroke-width="1.0" />
<line x1="449.2" y1="594.6" x2="609.6" y2="594.6" stroke="#c2c2c2" stroke-width="1.0" />
<line x1="449.2" y1="562.7" x2="609.6" y2="562.7" stroke="#c2c2c2" stroke-width="1.0" />
<line x1="449.2" y1="530.8" x2="609.6" y2="530.8" stroke="#c2c2c2" stroke-width="1.0" />
<rect x="450.3" y="648" width="17.40" height="10.40" fill="#c00014" stroke="#555" stroke-width="0.7"/>
<rect x="470.4" y="648" width="17.40" height="10.40" fill="#c00014" stroke="#555" stroke-width="0.7"/>
<rect x="490.3" y="610.5" width="17.40" height="47.90" fill="#c00014" stroke="#555" stroke-width="0.7"/>
<rect x="510" y="648" width="17.50" height="10.40" fill="#c00014" stroke="#555" stroke-width="0.7"/>
<rect x="530.3" y="626.2" width="17.40" height="32.20" fill="#c00014" stroke="#555" stroke-width="0.7"/>
<rect x="550" y="578.5" width="17.80" height="79.90" fill="#c00014" stroke="#555" stroke-width="0.7"/>
<rect x="570.3" y="530.8" width="17.40" height="127.60" fill="#cde2f5" stroke="#555" stroke-width="0.7"/>
<rect x="590" y="626.2" width="17.80" height="32.20" fill="#f6d81f" stroke="#555" stroke-width="0.7"/>
<line x1="449.2" y1="658.4" x2="609.6" y2="658.4" stroke="#555" stroke-width="1.1" />
<line x1="449.2" y1="658.4" x2="449.2" y2="661.6" stroke="#555" stroke-width="0.9" />
<line x1="469.25" y1="658.4" x2="469.25" y2="661.6" stroke="#555" stroke-width="0.9" />
<line x1="489.3" y1="658.4" x2="489.3" y2="661.6" stroke="#555" stroke-width="0.9" />
<line x1="509.35" y1="658.4" x2="509.35" y2="661.6" stroke="#555" stroke-width="0.9" />
<line x1="529.4" y1="658.4" x2="529.4" y2="661.6" stroke="#555" stroke-width="0.9" />
<line x1="549.45" y1="658.4" x2="549.45" y2="661.6" stroke="#555" stroke-width="0.9" />
<line x1="569.5" y1="658.4" x2="569.5" y2="661.6" stroke="#555" stroke-width="0.9" />
<line x1="589.55" y1="658.4" x2="589.55" y2="661.6" stroke="#555" stroke-width="0.9" />
<line x1="609.6" y1="658.4" x2="609.6" y2="661.6" stroke="#555" stroke-width="0.9" />
<text x="437.40" y="663.40" font-size="14" textLength="6.40" lengthAdjust="spacingAndGlyphs" text-anchor="end" fill="#666" stroke="#666" stroke-width="0.1" >0</text>
<text x="437.40" y="631.50" font-size="14" textLength="6.40" lengthAdjust="spacingAndGlyphs" text-anchor="end" fill="#666" stroke="#666" stroke-width="0.1" >2</text>
<text x="437.40" y="599.60" font-size="14" textLength="6.40" lengthAdjust="spacingAndGlyphs" text-anchor="end" fill="#666" stroke="#666" stroke-width="0.1" >4</text>
<text x="437.40" y="567.70" font-size="14" textLength="6.40" lengthAdjust="spacingAndGlyphs" text-anchor="end" fill="#666" stroke="#666" stroke-width="0.1" >6</text>
<text x="437.40" y="535.80" font-size="14" textLength="6.40" lengthAdjust="spacingAndGlyphs" text-anchor="end" fill="#666" stroke="#666" stroke-width="0.1" >8</text>
<text x="464.90" y="670.60" font-size="13.5" textLength="26.50" lengthAdjust="spacingAndGlyphs" text-anchor="end" transform="rotate(-45 464.90 670.60)" fill="#505050" stroke="#505050" stroke-width="0.05" >-0.64</text>
<text x="484.95" y="670.60" font-size="13.5" textLength="26.50" lengthAdjust="spacingAndGlyphs" text-anchor="end" transform="rotate(-45 484.95 670.60)" fill="#505050" stroke="#505050" stroke-width="0.05" >-0.54</text>
<text x="505.00" y="670.60" font-size="13.5" textLength="26.50" lengthAdjust="spacingAndGlyphs" text-anchor="end" transform="rotate(-45 505.00 670.60)" fill="#505050" stroke="#505050" stroke-width="0.05" >-0.44</text>
<text x="525.05" y="670.60" font-size="13.5" textLength="26.50" lengthAdjust="spacingAndGlyphs" text-anchor="end" transform="rotate(-45 525.05 670.60)" fill="#505050" stroke="#505050" stroke-width="0.05" >-0.34</text>
<text x="545.10" y="670.60" font-size="13.5" textLength="26.50" lengthAdjust="spacingAndGlyphs" text-anchor="end" transform="rotate(-45 545.10 670.60)" fill="#505050" stroke="#505050" stroke-width="0.05" >-0.24</text>
<text x="565.15" y="670.60" font-size="13.5" textLength="26.50" lengthAdjust="spacingAndGlyphs" text-anchor="end" transform="rotate(-45 565.15 670.60)" fill="#505050" stroke="#505050" stroke-width="0.05" >-0.14</text>
<text x="585.20" y="670.60" font-size="13.5" textLength="26.50" lengthAdjust="spacingAndGlyphs" text-anchor="end" transform="rotate(-45 585.20 670.60)" fill="#505050" stroke="#505050" stroke-width="0.05" >-0.04</text>
<text x="605.25" y="670.60" font-size="13.5" textLength="22.30" lengthAdjust="spacingAndGlyphs" text-anchor="end" transform="rotate(-45 605.25 670.60)" fill="#505050" stroke="#505050" stroke-width="0.05" >0.04</text>
<text x="465.80" y="615.30" font-size="14.5" textLength="16.20" lengthAdjust="spacingAndGlyphs" fill="#333" stroke="#333" stroke-width="0.1" >(–)</text>
<text x="591.00" y="610.60" font-size="14.5" textLength="16.80" lengthAdjust="spacingAndGlyphs" fill="#333" stroke="#333" stroke-width="0.1" >(+)</text>
<text x="467.90" y="705.50" font-size="15.3" textLength="126.20" lengthAdjust="spacingAndGlyphs" fill="#333" stroke="#333" stroke-width="0.15" >Change in Prevalence</text>
<rect x="592.9" y="489.7" width="25.4" height="23.7" fill="#fff" stroke="#333" stroke-width="1.3"/>
<text x="605.60" y="507.39" font-size="17.6" text-anchor="middle" font-weight="bold" fill="#111" stroke="#111" stroke-width="0" >D</text>
</svg>
</body></html>
